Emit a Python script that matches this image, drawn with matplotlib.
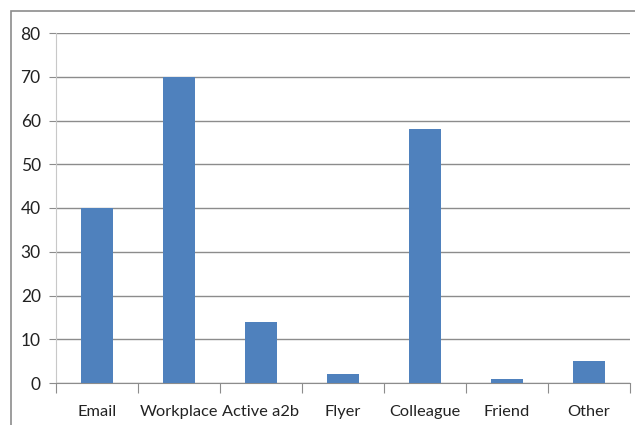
import matplotlib
matplotlib.use("Agg")
import matplotlib.pyplot as plt
from matplotlib.patches import Rectangle

categories = ["Email", "Workplace", "Active a2b", "Flyer", "Colleague", "Friend", "Other"]
values = [40, 70, 14, 2, 58, 1, 5]
yticks = [0, 10, 20, 30, 40, 50, 60, 70, 80]

W, H = 635, 425
fig = plt.figure(figsize=(W / 100, H / 100), dpi=100)
plt.rcParams["font.family"] = ["Lato", "DejaVu Sans"]

# outer chart frame (left and top edges visible)
fig.add_artist(Rectangle((11 / W, -0.1), 1.2, (H - 11) / H + 0.1, transform=fig.transFigure,
                         fill=False, edgecolor="#8c8c8c", linewidth=1.2))

ax = fig.add_axes([56 / W, (H - 383) / H, (630 - 56) / W, (383 - 33) / H])
x = range(len(categories))
ax.bar(x, values, width=0.39, color="#4F81BD", zorder=3)

ax.set_xlim(-0.5, len(categories) - 0.5)
ax.set_ylim(0, 80)
ax.set_yticks(yticks)
ax.set_yticklabels([str(t) for t in yticks], fontsize=12.5, color="#222222")
ax.yaxis.grid(True, color="#8c8c8c", linewidth=1.0, zorder=0)
ax.tick_params(axis="y", length=5, color="#8c8c8c", pad=6)

ax.set_xticks([i + 0.5 for i in range(-1, len(categories))])
ax.set_xticklabels([])
ax.set_xticks(list(x), minor=True)
ax.set_xticklabels(categories, minor=True, fontsize=11.8, color="#222222")
ax.tick_params(axis="x", which="major", length=7, color="#8c8c8c", direction="out")
ax.tick_params(axis="x", which="minor", length=0, pad=16)

for s in ["top", "right"]:
    ax.spines[s].set_visible(False)
ax.spines["left"].set_color("#c8c8c8")
ax.spines["bottom"].set_color("#8c8c8c")

fig.savefig("out.png", dpi=100)
